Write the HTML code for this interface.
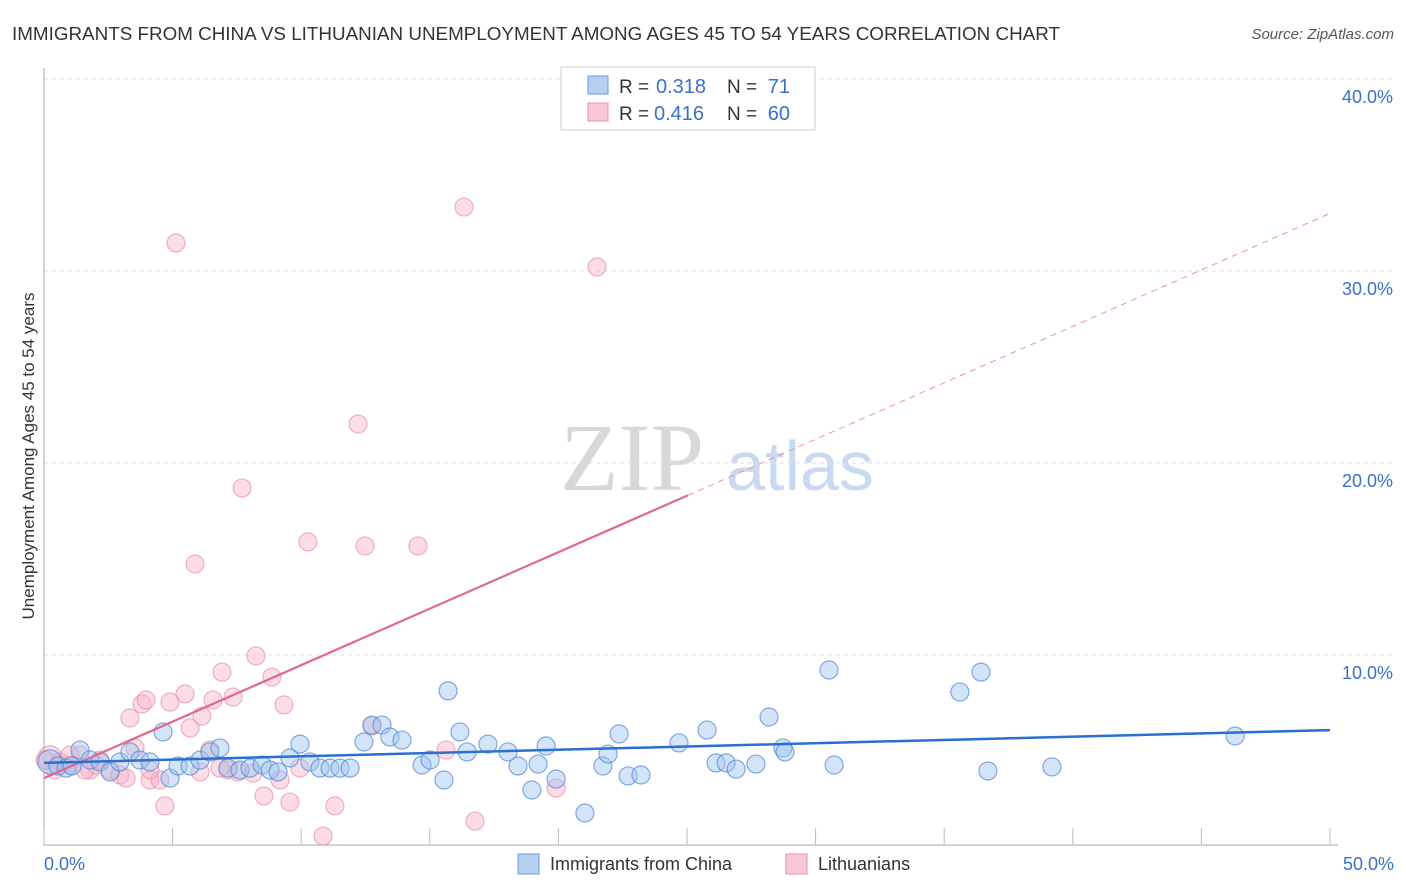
<!DOCTYPE html>
<html><head><meta charset="utf-8"><style>
body{margin:0;background:#fff;font-family:"Liberation Sans",sans-serif;}
svg{display:block}
</style></head><body>
<svg id="c" width="1406" height="892">
<text x="12" y="40" font-size="18" fill="#333" textLength="1048" lengthAdjust="spacingAndGlyphs">IMMIGRANTS FROM CHINA VS LITHUANIAN UNEMPLOYMENT AMONG AGES 45 TO 54 YEARS CORRELATION CHART</text>
<text x="1394" y="39" font-size="15" fill="#555" font-style="italic" text-anchor="end">Source: ZipAtlas.com</text>
<text x="632" y="490" font-size="96" fill="#d8d8d8" font-family="Liberation Serif" text-anchor="middle">ZIP</text>
<text x="800" y="490" font-size="70" fill="#c9daf0" text-anchor="middle">atlas</text>
<g id="grid"></g><g id="marks"></g>
<text transform="translate(34,456) rotate(-90)" font-size="17" fill="#333" text-anchor="middle">Unemployment Among Ages 45 to 54 years</text>
<g>
<rect x="561" y="67" width="254" height="63" fill="#fff" stroke="#ccc"/>
<rect x="588" y="76" width="20" height="18" fill="#b8d0f0" stroke="#6a9ae0"/>
<rect x="588" y="103" width="20" height="18" fill="#f8c8d6" stroke="#e890aa"/>
<text x="619" y="93" font-size="19" fill="#333">R =</text>
<text x="656" y="93" font-size="20" fill="#3a70c8">0.318</text>
<text x="727" y="93" font-size="19" fill="#333">N =</text>
<text x="790" y="93" font-size="20" fill="#3a70c8" text-anchor="end">71</text>
<text x="619" y="120" font-size="19" fill="#333">R =</text>
<text x="654" y="120" font-size="20" fill="#3a70c8">0.416</text>
<text x="727" y="120" font-size="19" fill="#333">N =</text>
<text x="790" y="120" font-size="20" fill="#3a70c8" text-anchor="end">60</text>
</g>
<g>
<rect x="518" y="854" width="21" height="20" fill="#b8d0f0" stroke="#6a9ae0"/>
<text x="550" y="870" font-size="18" fill="#333">Immigrants from China</text>
<rect x="786" y="854" width="21" height="20" fill="#f8c8d6" stroke="#e890aa"/>
<text x="818" y="870" font-size="18" fill="#333">Lithuanians</text>
</g>
</svg>
<script>
const xTicks=[0,5,10,15,20,25,30,35,40,45,50];
const yTicks=[10,20,30,40];
const yTickLabels=["10.0%","20.0%","30.0%","40.0%"];
const xEndLabels=["0.0%","50.0%"];
const chinaX=[0.23,0.54,0.86,1.09,1.40,1.79,2.18,2.57,2.95,3.34,3.73,4.12,4.63,4.90,5.21,5.68,6.07,6.45,6.84,7.15,7.62,8.01,8.48,8.79,9.10,9.56,9.95,10.34,10.73,11.12,11.51,11.90,12.44,12.75,13.14,13.45,13.92,14.70,15.01,15.55,15.71,16.17,16.45,17.26,18.04,18.43,19.21,19.52,19.91,18.97,21.03,21.73,21.93,22.36,22.71,23.21,24.69,25.78,26.13,26.52,26.91,27.68,28.19,28.73,28.81,30.52,30.72,35.61,36.43,36.70,39.19,46.31];
const chinaY=[4.43,4.22,4.11,4.22,5.05,4.53,4.43,3.91,4.43,4.95,4.53,4.43,5.99,3.59,4.22,4.22,4.53,4.95,5.16,4.11,4.01,4.11,4.27,4.01,3.91,4.64,5.36,4.43,4.11,4.11,4.11,4.11,5.47,6.35,6.35,5.73,5.57,4.27,4.53,3.49,8.13,5.99,4.95,5.36,4.95,4.22,4.32,5.26,3.54,2.97,1.77,4.22,4.84,5.89,3.70,3.75,5.42,6.09,4.38,4.38,4.06,4.32,6.77,5.16,4.95,9.22,4.27,8.07,9.11,3.96,4.17,5.78];
const lithX=[0.23,0.62,1.01,1.40,1.79,2.18,2.57,2.95,3.19,3.34,3.54,3.81,3.97,4.12,4.51,4.70,4.90,5.13,5.48,5.68,5.87,6.07,6.14,6.45,6.57,6.92,7.15,7.35,7.54,7.70,8.13,8.24,8.55,8.86,9.18,9.33,9.56,9.95,10.26,10.85,11.31,12.21,12.48,12.75,14.54,15.63,16.33,16.76,19.91,21.50,0.62,0.04,0.43,1.59,2.02,6.84,4.12,1.01];
const lithY=[4.64,4.43,4.27,4.79,4.01,4.53,4.01,3.75,3.59,6.72,5.16,7.45,7.66,3.49,3.49,2.14,7.55,31.46,7.97,6.20,14.74,3.91,6.82,5.05,7.66,9.11,4.01,7.81,3.91,18.70,3.85,9.95,2.66,8.85,3.49,7.40,2.34,4.11,15.89,0.57,2.14,22.03,15.68,6.30,15.68,5.05,33.33,1.35,3.07,30.21,4.27,4.53,4.01,4.01,4.27,4.11,4.01,4.79];
const chinaLine=[4.38,6.09];
const lithLine=[3.59,33.0];
const lithSolidEnd=25.04;
const X=v=>44+v*25.72, Y=v=>847-v*19.2;
const NS="http://www.w3.org/2000/svg";
function mk(t,a,p){const e=document.createElementNS(NS,t);for(const k in a)e.setAttribute(k,a[k]);p.appendChild(e);return e;}
const g=document.getElementById('grid'), m=document.getElementById('marks');
yTicks.forEach((t,i)=>{
 const l=mk('line',{x1:44,x2:1395,y1:Y(t),y2:Y(t),stroke:'#ddd','stroke-dasharray':'4,4'},g);
 
 
 const tx=mk('text',{x:1393,y:Y(t)+24,'font-size':18,fill:'#3a70c8','text-anchor':'end'},g);
 tx.textContent=yTickLabels[i];
 
 
});
const ax=mk('path',{d:'M44,68V845H1338',stroke:'#aaa',fill:'none'},g);


xTicks.forEach(t=>{
 const l=mk('line',{x1:X(t),x2:X(t),y1:828,y2:845,stroke:'#bbb'},g);
 
 
});
[[0,'start',44],[50,'end',1394]].forEach((d,i)=>{
 const tx=mk('text',{x:d[2],y:870,'font-size':18,fill:'#3a70c8','text-anchor':d[1]},g);
 tx.textContent=xEndLabels[i];
 
 
});
lithX.forEach((x,i)=>{
 const c=mk('circle',{cx:X(x),cy:Y(lithY[i]),r:i==0?12:9,fill:'rgba(248,180,200,0.45)',stroke:'rgba(232,130,160,0.6)','stroke-width':1.2},m);
 
 
});
chinaX.forEach((x,i)=>{
 const c=mk('circle',{cx:X(x),cy:Y(chinaY[i]),r:i==0?12:9,fill:'rgba(160,195,240,0.45)',stroke:'rgba(80,135,215,0.7)','stroke-width':1.2},m);
 
 
});
const ly=x=>lithLine[0]+(lithLine[1]-lithLine[0])*x/50;
const l1=mk('line',{x1:X(0),y1:Y(lithLine[0]),x2:X(lithSolidEnd),y2:Y(ly(lithSolidEnd)),stroke:'#e06890','stroke-width':2.2},m);


const l2=mk('line',{x1:X(lithSolidEnd),y1:Y(ly(lithSolidEnd)),x2:X(50),y2:Y(lithLine[1]),stroke:'#e890aa','stroke-width':1,'stroke-dasharray':'6,5'},m);


const l3=mk('line',{x1:X(0),y1:Y(chinaLine[0]),x2:X(50),y2:Y(chinaLine[1]),stroke:'#2a70d0','stroke-width':2.5},m);


</script>
</body></html>
